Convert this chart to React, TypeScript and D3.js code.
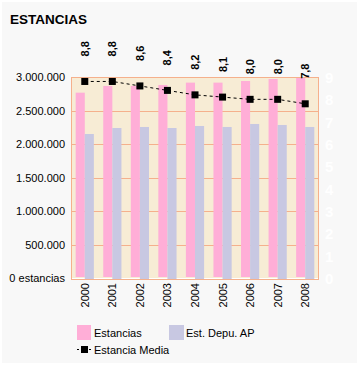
import React from "react";
import * as d3 from "d3";

const years = ["2000", "2001", "2002", "2003", "2004", "2005", "2006", "2007", "2008"];
const estancias = [2766000, 2866000, 2866000, 2881000, 2916000, 2916000, 2940000, 2970000, 2995000];
const estDepu = [2149000, 2239000, 2254000, 2239000, 2269000, 2254000, 2299000, 2284000, 2254000];
const estanciaMedia = [8.8, 8.8, 8.6, 8.4, 8.2, 8.1, 8.0, 8.0, 7.8];
const leftTicks = [0, 500000, 1000000, 1500000, 2000000, 2500000, 3000000];
const rightTicks = [0, 1, 2, 3, 4, 5, 6, 7, 8, 9];

const W = 360, H = 366;
const L = 71, R = 319, T = 77, B = 278;
const FONT = "'Liberation Sans', Arial, sans-serif";

const fmtLeft = (v: number) => {
  if (v === 0) return "0 estancias";
  return d3.format(",")(v).replace(/,/g, ".");
};
const fmtComma = (v: number) => v.toFixed(1).replace(".", ",");

export default function App() {
  const x = d3.scaleBand<string>().domain(years).range([L, R]).paddingInner(0).paddingOuter(0);
  const y = d3.scaleLinear().domain([0, 3000000]).range([B, T]);
  const y2 = d3.scaleLinear().domain([0, 9]).range([B, T]);
  const bw = x.step() * 0.33;
  const cx = (yr: string) => (x(yr) as number) + x.step() / 2;

  const line = d3
    .line<number>()
    .x((_, i) => cx(years[i]))
    .y((d) => y2(d));

  return (
    <svg width={W} height={H} style={{ position: "absolute", left: 0, top: 0, background: "#fff" }}>
      <rect x={2} y={2} width={355} height={361} fill="#f8f8f8" />
      <text x={10} y={24} fontFamily={FONT} fontWeight="bold" fontSize={13.5} fill="#000">
        ESTANCIAS
      </text>
      {/* plot background */}
      <rect x={L} y={T} width={R - L} height={B - T} fill="#f7ecd5" />
      {/* grid */}
      {leftTicks.map((t) => (
        <line key={t} x1={L} x2={R} y1={Math.round(y(t)) + 0.5} y2={Math.round(y(t)) + 0.5} stroke="#f5b08c" strokeWidth={1} />
      ))}
      <line x1={L} x2={R} y1={B + 0.5} y2={B + 0.5} stroke="#ffffff" strokeWidth={1} />
      {/* bars */}
      {years.map((yr, i) => (
        <g key={yr}>
          <rect x={cx(yr) - bw} y={y(estancias[i])} width={bw} height={B - 1 - y(estancias[i])} fill="#ffaed7" />
          <rect x={cx(yr)} y={y(estDepu[i])} width={bw} height={B + 1 - y(estDepu[i])} fill="#c8c8e2" />
        </g>
      ))}
      {/* border */}
      <rect x={L + 0.5} y={T + 0.5} width={R - L - 1} height={B - T + 1} fill="none" stroke="#f5b08c" strokeWidth={1} />
      <line x1={L} x2={R} y1={B + 1.5} y2={B + 1.5} stroke="#f5b08c" strokeWidth={1} />
      {/* left axis labels */}
      {leftTicks.map((t) => (
        <text key={t} x={65} y={y(t) + 4} textAnchor="end" fontFamily={FONT} fontSize={11} fill="#000">
          {fmtLeft(t)}
        </text>
      ))}
      {/* right axis labels (white) */}
      {rightTicks.map((t) => (
        <text key={t} x={325} y={y2(t) + 6} fontFamily={FONT} fontSize={15} fontWeight="bold" fill="#ffffff">
          {t}
        </text>
      ))}
      {/* line */}
      <path d={line(estanciaMedia) || ""} fill="none" stroke="#000" strokeWidth={1} strokeDasharray="3,3" />
      {estanciaMedia.map((v, i) => (
        <rect key={i} x={cx(years[i]) - 3.5} y={y2(v) - 3.5} width={7} height={7} fill="#000" />
      ))}
      {/* data labels */}
      {estanciaMedia.map((v, i) => {
        const px = cx(years[i]) + 4;
        const py = y2(v) - 25;
        return (
          <text key={i} transform={`translate(${px},${py}) rotate(-90)`} fontFamily={FONT} fontSize={11} fontWeight="bold" fill="#000">
            {fmtComma(v)}
          </text>
        );
      })}
      {/* x labels */}
      {years.map((yr) => (
        <text key={yr} transform={`translate(${cx(yr) + 4},${B + 5}) rotate(-90)`} textAnchor="end" fontFamily={FONT} fontSize={11} fill="#000">
          {yr}
        </text>
      ))}
      {/* legend */}
      <rect x={77} y={325} width={14} height={15} fill="#ffaed7" />
      <text x={94} y={337} fontFamily={FONT} fontSize={11} fill="#000">Estancias</text>
      <rect x={169} y={325} width={15} height={15} fill="#c8c8e2" />
      <text x={186} y={337} fontFamily={FONT} fontSize={11} fill="#000">Est. Depu. AP</text>
      <line x1={77} x2={91} y1={349.5} y2={349.5} stroke="#000" strokeWidth={1} strokeDasharray="2,2" />
      <rect x={81} y={346} width={7} height={7} fill="#000" />
      <text x={94} y={354} fontFamily={FONT} fontSize={11} fill="#000">Estancia Media</text>
    </svg>
  );
}
